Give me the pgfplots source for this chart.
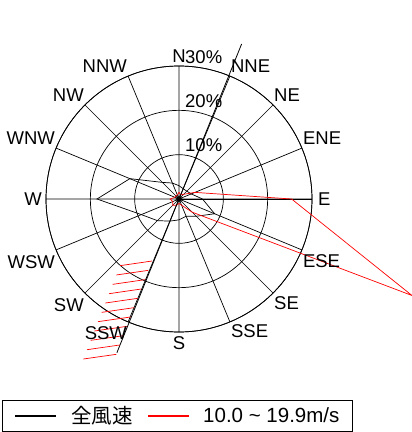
\documentclass[border=0pt]{standalone}
\usepackage{fontspec}
\setmainfont{Liberation Sans}
\newfontfamily\cjk{Noto Sans CJK JP}
\usepackage{pgfplots}
\pgfplotsset{compat=1.18}
\usepgfplotslibrary{polar}
\begin{document}
\begin{tikzpicture}[lab/.style={font=\fontsize{18.5}{22}\selectfont, inner sep=1pt}]
\begin{polaraxis}[
  at={(179pt,233pt)}, anchor=center,
  width=266pt, height=266pt, scale only axis,
  xmin=0, xmax=360, ymin=0, ymax=30,
  xtick={0,22.5,...,337.5}, xticklabels={},
  ytick={10,20,30}, yticklabels={},
  grid=major, major grid style={black, line width=0.7pt},
  axis line style={black, line width=0.7pt},
  major tick length=0pt,
  clip=false,
  legend columns=2,
  legend style={at={(-0.1654,-0.2556)}, anchor=north west,
    draw=black, line width=0.7pt, inner xsep=13pt, inner ysep=6pt,
    font=\fontsize{20.5}{24}\selectfont,
    nodes={inner sep=0pt},
    /tikz/every even column/.append style={column sep=15pt},
    /tikz/every odd column/.append style={column sep=15pt}},
]
% all wind speeds
\addplot[color=black, line width=0.7pt,
  legend image code/.code={\fill[black] (0pt,-0.25pt) rectangle (40pt,0.25pt);}]
  coordinates {
 (90,3) (67.5,2.5) (45,2.5) (22.5,3) (0,5.3) (337.5,8.7) (315,5.5) (292.5,4.2)
 (270,4.7) (247.5,5.4) (225,6.9) (202.5,9.2) (180,18.5) (157.5,12) (135,5.3) (112.5,3.9) (90,3)};
\addlegendentry{\cjk 全風速}
% 10.0 - 19.9 m/s
\addplot[color=red, line width=0.7pt,
  legend image code/.code={\fill[red] (0pt,-0.25pt) rectangle (40pt,0.25pt);}]
  coordinates {
 (90,1.5) (67.5,1) (45,1.5) (22.5,3.9) (0,25.4) (337.5,56.9) (315,4.2) (292.5,1.5)
 (270,1) (247.5,1.5) (225,2) (202.5,1.5) (180,2) (157.5,1) (135,1) (112.5,1) (90,1.5)};
\addlegendentry{10.0 \textasciitilde{} 19.9m/s}
% NNE-SSW spike of all wind speeds
\addplot[black, line width=0.8pt, forget plot] coordinates {(68,37.7) (248,37.4)};
% red hatching near SSW
\addplot[red, line width=0.7pt, data cs=cart, forget plot] coordinates {(-13.31,-15.04) (-6.10,-13.99)};
\addplot[red, line width=0.7pt, data cs=cart, forget plot] coordinates {(-14.14,-17.14) (-6.90,-16.09)};
\addplot[red, line width=0.7pt, data cs=cart, forget plot] coordinates {(-14.96,-19.25) (-7.71,-18.20)};
\addplot[red, line width=0.7pt, data cs=cart, forget plot] coordinates {(-15.79,-21.36) (-8.51,-20.30)};
\addplot[red, line width=0.7pt, data cs=cart, forget plot] coordinates {(-16.62,-23.46) (-9.32,-22.41)};
\addplot[red, line width=0.7pt, data cs=cart, forget plot] coordinates {(-17.44,-25.57) (-10.12,-24.51)};
\addplot[red, line width=0.7pt, data cs=cart, forget plot] coordinates {(-18.27,-27.67) (-10.93,-26.62)};
\addplot[red, line width=0.7pt, data cs=cart, forget plot] coordinates {(-19.10,-29.78) (-11.73,-28.72)};
\addplot[red, line width=0.7pt, data cs=cart, forget plot] coordinates {(-19.93,-31.88) (-12.54,-30.83)};
\addplot[red, line width=0.7pt, data cs=cart, forget plot] coordinates {(-20.75,-33.99) (-13.35,-32.93)};
\addplot[red, line width=0.7pt, data cs=cart, forget plot] coordinates {(-21.58,-36.09) (-14.15,-35.04)};
% radial labels
\node[lab, anchor=base west, inner sep=0pt, xshift=6pt, yshift=3pt] at (axis cs:90,10) {10\%};
\node[lab, anchor=base west, inner sep=0pt, xshift=6pt, yshift=3pt] at (axis cs:90,20) {20\%};
\node[lab, anchor=base west, inner sep=0pt, xshift=6pt, yshift=3pt] at (axis cs:90,30) {30\%};
% direction labels
\node[lab, anchor=base, yshift=3.3pt] at (axis cs:90,30) {N};
\node[lab, anchor=south west, yshift=2pt] at (axis cs:67.5,30) {NNE};
\node[lab, anchor=south west, yshift=2pt] at (axis cs:45,30) {NE};
\node[lab, anchor=south west, yshift=2pt] at (axis cs:22.5,30) {ENE};
\node[lab, anchor=west, xshift=5pt] at (axis cs:0,30) {E};
\node[lab, anchor=north west, yshift=-3pt] at (axis cs:337.5,30) {ESE};
\node[lab, anchor=north west, yshift=-2pt] at (axis cs:315,30) {SE};
\node[lab, anchor=north west, yshift=-2pt] at (axis cs:292.5,30) {SSE};
\node[lab, anchor=north, yshift=-3.5pt] at (axis cs:270,30) {S};
\node[lab, anchor=north east, yshift=-4pt] at (axis cs:247.5,30) {SSW};
\node[lab, anchor=north east, yshift=-4pt] at (axis cs:225,30) {SW};
\node[lab, anchor=north east, yshift=-4pt] at (axis cs:202.5,30) {WSW};
\node[lab, anchor=east, xshift=-3pt] at (axis cs:180,30) {W};
\node[lab, anchor=south east, yshift=2pt] at (axis cs:157.5,30) {WNW};
\node[lab, anchor=south east, yshift=2pt] at (axis cs:135,30) {NW};
\node[lab, anchor=south east, yshift=2pt] at (axis cs:112.5,30) {NNW};
\end{polaraxis}
\pgfresetboundingbox
\path[use as bounding box] (0,0) rectangle (412pt,432pt);
\end{tikzpicture}
\end{document}
